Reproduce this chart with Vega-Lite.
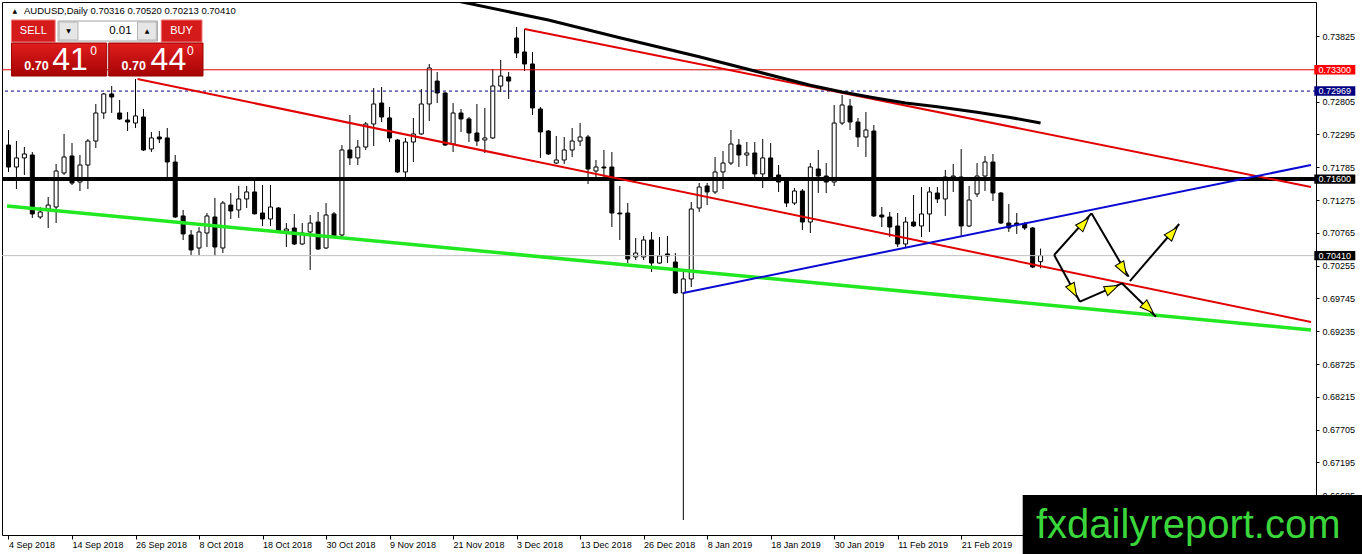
{
  "$schema": "https://vega.github.io/schema/vega-lite/v6.json",
  "width": 1314,
  "height": 533,
  "autosize": {"type": "none"},
  "padding": {"left": 2, "top": 2, "right": 46, "bottom": 19},
  "background": "white",
  "config": {
    "view": {"stroke": "black", "strokeWidth": 1},
    "axis": {"domain": false, "grid": false, "tickColor": "black", "tickWidth": 1, "labelFont": "Liberation Sans", "labelFontSize": 9, "labelColor": "black"}
  },
  "datasets": {
    "candles": [
      {"i":0,"o":0.72130,"h":0.72364,"l":0.71711,"c":0.71788},
      {"i":1,"o":0.71788,"h":0.72192,"l":0.71446,"c":0.71929},
      {"i":2,"o":0.71929,"h":0.72099,"l":0.71664,"c":0.71991},
      {"i":3,"o":0.71975,"h":0.72022,"l":0.70996,"c":0.71058},
      {"i":4,"o":0.71011,"h":0.71166,"l":0.70980,"c":0.71089},
      {"i":5,"o":0.71135,"h":0.71322,"l":0.70840,"c":0.71197},
      {"i":6,"o":0.71166,"h":0.71835,"l":0.70917,"c":0.71726},
      {"i":7,"o":0.71695,"h":0.72302,"l":0.71664,"c":0.71944},
      {"i":8,"o":0.71960,"h":0.72161,"l":0.71508,"c":0.71539},
      {"i":9,"o":0.71555,"h":0.71975,"l":0.71415,"c":0.71819},
      {"i":10,"o":0.71819,"h":0.72224,"l":0.71446,"c":0.72192},
      {"i":11,"o":0.72192,"h":0.72768,"l":0.72084,"c":0.72628},
      {"i":12,"o":0.72628,"h":0.72939,"l":0.72535,"c":0.72924},
      {"i":13,"o":0.72924,"h":0.73048,"l":0.72628,"c":0.72877},
      {"i":14,"o":0.72628,"h":0.72830,"l":0.72519,"c":0.72535},
      {"i":15,"o":0.72519,"h":0.72644,"l":0.72348,"c":0.72488},
      {"i":16,"o":0.72472,"h":0.73157,"l":0.72395,"c":0.72582},
      {"i":17,"o":0.72566,"h":0.72690,"l":0.72037,"c":0.72053},
      {"i":18,"o":0.72068,"h":0.72333,"l":0.72022,"c":0.72240},
      {"i":19,"o":0.72255,"h":0.72348,"l":0.72161,"c":0.72224},
      {"i":20,"o":0.72240,"h":0.72395,"l":0.71633,"c":0.71866},
      {"i":21,"o":0.71866,"h":0.71975,"l":0.70996,"c":0.71011},
      {"i":22,"o":0.71027,"h":0.71120,"l":0.70653,"c":0.70747},
      {"i":23,"o":0.70731,"h":0.70809,"l":0.70420,"c":0.70498},
      {"i":24,"o":0.70529,"h":0.70855,"l":0.70420,"c":0.70778},
      {"i":25,"o":0.70762,"h":0.71073,"l":0.70544,"c":0.71027},
      {"i":26,"o":0.71011,"h":0.71307,"l":0.70405,"c":0.70544},
      {"i":27,"o":0.70529,"h":0.71259,"l":0.70451,"c":0.71228},
      {"i":28,"o":0.71197,"h":0.71384,"l":0.70980,"c":0.71104},
      {"i":29,"o":0.71120,"h":0.71493,"l":0.70996,"c":0.71291},
      {"i":30,"o":0.71291,"h":0.71493,"l":0.71151,"c":0.71400},
      {"i":31,"o":0.71400,"h":0.71570,"l":0.71050,"c":0.71060},
      {"i":32,"o":0.71073,"h":0.71508,"l":0.70871,"c":0.70980},
      {"i":33,"o":0.70980,"h":0.71508,"l":0.70871,"c":0.71166},
      {"i":34,"o":0.71151,"h":0.71166,"l":0.70778,"c":0.70793},
      {"i":35,"o":0.70793,"h":0.70917,"l":0.70544,"c":0.70824},
      {"i":36,"o":0.70840,"h":0.71058,"l":0.70575,"c":0.70591},
      {"i":37,"o":0.70591,"h":0.70917,"l":0.70575,"c":0.70762},
      {"i":38,"o":0.70778,"h":0.71042,"l":0.70187,"c":0.70917},
      {"i":39,"o":0.70933,"h":0.71089,"l":0.70498,"c":0.70513},
      {"i":40,"o":0.70529,"h":0.71228,"l":0.70513,"c":0.71042},
      {"i":41,"o":0.71058,"h":0.71089,"l":0.70700,"c":0.70716},
      {"i":42,"o":0.70731,"h":0.72130,"l":0.70700,"c":0.72053},
      {"i":43,"o":0.72053,"h":0.72597,"l":0.71819,"c":0.71929},
      {"i":44,"o":0.71929,"h":0.72208,"l":0.71819,"c":0.72099},
      {"i":45,"o":0.72099,"h":0.72488,"l":0.72053,"c":0.72457},
      {"i":46,"o":0.72457,"h":0.73017,"l":0.72115,"c":0.72768},
      {"i":47,"o":0.72783,"h":0.73032,"l":0.72488,"c":0.72566},
      {"i":48,"o":0.72551,"h":0.72721,"l":0.72177,"c":0.72240},
      {"i":49,"o":0.72208,"h":0.72224,"l":0.71695,"c":0.71711},
      {"i":50,"o":0.71711,"h":0.72240,"l":0.71618,"c":0.72177},
      {"i":51,"o":0.72177,"h":0.72551,"l":0.71866,"c":0.72302},
      {"i":52,"o":0.72302,"h":0.73001,"l":0.72286,"c":0.72768},
      {"i":53,"o":0.72768,"h":0.73390,"l":0.72504,"c":0.73328},
      {"i":54,"o":0.73125,"h":0.73266,"l":0.72783,"c":0.72939},
      {"i":55,"o":0.72939,"h":0.72955,"l":0.72115,"c":0.72130},
      {"i":56,"o":0.72146,"h":0.72783,"l":0.72022,"c":0.72628},
      {"i":57,"o":0.72628,"h":0.72690,"l":0.72333,"c":0.72535},
      {"i":58,"o":0.72535,"h":0.72566,"l":0.72177,"c":0.72317},
      {"i":59,"o":0.72317,"h":0.72768,"l":0.72115,"c":0.72192},
      {"i":60,"o":0.72208,"h":0.72706,"l":0.72006,"c":0.72240},
      {"i":61,"o":0.72240,"h":0.73313,"l":0.72224,"c":0.73048},
      {"i":62,"o":0.73048,"h":0.73452,"l":0.72955,"c":0.73203},
      {"i":63,"o":0.73188,"h":0.73266,"l":0.72846,"c":0.73125},
      {"i":64,"o":0.73794,"h":0.73966,"l":0.73483,"c":0.73561},
      {"i":65,"o":0.73577,"h":0.73935,"l":0.73281,"c":0.73390},
      {"i":66,"o":0.73390,"h":0.73577,"l":0.72597,"c":0.72706},
      {"i":67,"o":0.72690,"h":0.72721,"l":0.71929,"c":0.72333},
      {"i":68,"o":0.72348,"h":0.72364,"l":0.71975,"c":0.71991},
      {"i":69,"o":0.71850,"h":0.72271,"l":0.71835,"c":0.71897},
      {"i":70,"o":0.71897,"h":0.72255,"l":0.71835,"c":0.72053},
      {"i":71,"o":0.72053,"h":0.72395,"l":0.71944,"c":0.72192},
      {"i":72,"o":0.72192,"h":0.72472,"l":0.72115,"c":0.72255},
      {"i":73,"o":0.72255,"h":0.72286,"l":0.71524,"c":0.71757},
      {"i":74,"o":0.71726,"h":0.71897,"l":0.71633,"c":0.71788},
      {"i":75,"o":0.71788,"h":0.72053,"l":0.71633,"c":0.71773},
      {"i":76,"o":0.71788,"h":0.72022,"l":0.70855,"c":0.71073},
      {"i":77,"o":0.71073,"h":0.71493,"l":0.70653,"c":0.71058},
      {"i":78,"o":0.71073,"h":0.71228,"l":0.70295,"c":0.70358},
      {"i":79,"o":0.70389,"h":0.70684,"l":0.70342,"c":0.70451},
      {"i":80,"o":0.70389,"h":0.70716,"l":0.70342,"c":0.70653},
      {"i":81,"o":0.70653,"h":0.70778,"l":0.70156,"c":0.70295},
      {"i":82,"o":0.70295,"h":0.70700,"l":0.70280,"c":0.70405},
      {"i":83,"o":0.70436,"h":0.70716,"l":0.70295,"c":0.70405},
      {"i":84,"o":0.70311,"h":0.70451,"l":0.69813,"c":0.69829},
      {"i":85,"o":0.69829,"h":0.70156,"l":0.66299,"c":0.70047},
      {"i":86,"o":0.70047,"h":0.71244,"l":0.69922,"c":0.71135},
      {"i":87,"o":0.71151,"h":0.71539,"l":0.71089,"c":0.71477},
      {"i":88,"o":0.71493,"h":0.71539,"l":0.71197,"c":0.71400},
      {"i":89,"o":0.71400,"h":0.71944,"l":0.71369,"c":0.71711},
      {"i":90,"o":0.71711,"h":0.72037,"l":0.71446,"c":0.71850},
      {"i":91,"o":0.71850,"h":0.72364,"l":0.71819,"c":0.72146},
      {"i":92,"o":0.72130,"h":0.72224,"l":0.71788,"c":0.71975},
      {"i":93,"o":0.71975,"h":0.72177,"l":0.71804,"c":0.72006},
      {"i":94,"o":0.72006,"h":0.72177,"l":0.71633,"c":0.71680},
      {"i":95,"o":0.71680,"h":0.72224,"l":0.71461,"c":0.71929},
      {"i":96,"o":0.71929,"h":0.72161,"l":0.71586,"c":0.71617},
      {"i":97,"o":0.71664,"h":0.71819,"l":0.71400,"c":0.71555},
      {"i":98,"o":0.71570,"h":0.71602,"l":0.71166,"c":0.71228},
      {"i":99,"o":0.71228,"h":0.71461,"l":0.71197,"c":0.71415},
      {"i":100,"o":0.71415,"h":0.71446,"l":0.70809,"c":0.70933},
      {"i":101,"o":0.70933,"h":0.71850,"l":0.70762,"c":0.71788},
      {"i":102,"o":0.71757,"h":0.72053,"l":0.71384,"c":0.71648},
      {"i":103,"o":0.71648,"h":0.71850,"l":0.71384,"c":0.71555},
      {"i":104,"o":0.71555,"h":0.72753,"l":0.71493,"c":0.72472},
      {"i":105,"o":0.72472,"h":0.72908,"l":0.72441,"c":0.72753},
      {"i":106,"o":0.72737,"h":0.72846,"l":0.72364,"c":0.72488},
      {"i":107,"o":0.72488,"h":0.72551,"l":0.72099,"c":0.72255},
      {"i":108,"o":0.72255,"h":0.72644,"l":0.71944,"c":0.72364},
      {"i":109,"o":0.72348,"h":0.72441,"l":0.71011,"c":0.71027},
      {"i":110,"o":0.71042,"h":0.71166,"l":0.70855,"c":0.71011},
      {"i":111,"o":0.71011,"h":0.71089,"l":0.70700,"c":0.70855},
      {"i":112,"o":0.70871,"h":0.71073,"l":0.70544,"c":0.70591},
      {"i":113,"o":0.70591,"h":0.71011,"l":0.70544,"c":0.70933},
      {"i":114,"o":0.70933,"h":0.71353,"l":0.70855,"c":0.70871},
      {"i":115,"o":0.70871,"h":0.71477,"l":0.70700,"c":0.71058},
      {"i":116,"o":0.71058,"h":0.71477,"l":0.70778,"c":0.71400},
      {"i":117,"o":0.71384,"h":0.71477,"l":0.71228,"c":0.71291},
      {"i":118,"o":0.71291,"h":0.71742,"l":0.71027,"c":0.71633},
      {"i":119,"o":0.71633,"h":0.71835,"l":0.71400,"c":0.71648},
      {"i":120,"o":0.71633,"h":0.72068,"l":0.70716,"c":0.70871},
      {"i":121,"o":0.70871,"h":0.71493,"l":0.70855,"c":0.71275},
      {"i":122,"o":0.71369,"h":0.71850,"l":0.71322,"c":0.71648},
      {"i":123,"o":0.71648,"h":0.71960,"l":0.71415,"c":0.71866},
      {"i":124,"o":0.71866,"h":0.71991,"l":0.71259,"c":0.71384},
      {"i":125,"o":0.71384,"h":0.71400,"l":0.70902,"c":0.70917},
      {"i":126,"o":0.70917,"h":0.71213,"l":0.70778,"c":0.70840},
      {"i":127,"o":0.70917,"h":0.71073,"l":0.70747,"c":0.70886},
      {"i":128,"o":0.70902,"h":0.70933,"l":0.70809,"c":0.70840},
      {"i":129,"o":0.70840,"h":0.70855,"l":0.70218,"c":0.70233},
      {"i":130,"o":0.70316,"h":0.70520,"l":0.70213,"c":0.70410}
    ],
    "ma": [
      {"i":55,"p":0.74420},{"i":57,"p":0.74357},{"i":68,"p":0.74074},{"i":77,"p":0.73797},
      {"i":87,"p":0.73502},{"i":101,"p":0.73060},{"i":105,"p":0.72954},{"i":109,"p":0.72865},
      {"i":113,"p":0.72785},{"i":117,"p":0.72724},{"i":122,"p":0.72638},{"i":126,"p":0.72563},
      {"i":130,"p":0.72472}
    ],
    "levels": [
      {"k":"res","p":0.733},
      {"k":"dash","p":0.72969},
      {"k":"piv","p":0.716},
      {"k":"bid","p":0.7041}
    ],
    "trend": [
      {"k":"redA","i1":16.25,"p1":0.73157,"i2":164.0625,"p2":0.69378},
      {"k":"redB","i1":65,"p1":0.73935,"i2":164.0625,"p2":0.71477},
      {"k":"green","i1":-0.1875,"p1":0.71182,"i2":164.0625,"p2":0.69254},
      {"k":"blue","i1":85,"p1":0.69829,"i2":164.0625,"p2":0.71819}
    ],
    "arrows": [
      {"i1":131.71,"p1":0.7042,"i2":136.41,"p2":0.71068},
      {"i1":136.41,"p1":0.71068,"i2":141.09,"p2":0.70082},
      {"i1":141.25,"p1":0.70015,"i2":147.46,"p2":0.70902},
      {"i1":131.71,"p1":0.7042,"i2":134.96,"p2":0.69694},
      {"i1":134.96,"p1":0.69694,"i2":140.25,"p2":0.6998},
      {"i1":140.25,"p1":0.6998,"i2":144.54,"p2":0.6946}
    ],
    "heads": [
      {"i":135.46,"p":0.70913,"dir":42},
      {"i":140.375,"p":0.70197,"dir":150},
      {"i":146.625,"p":0.70767,"dir":41},
      {"i":134.125,"p":0.69865,"dir":151},
      {"i":139.0,"p":0.69902,"dir":66},
      {"i":143.59,"p":0.69591,"dir":134}
    ],
    "panel": [
      {"k":"btn","i1":0.375,"i2":5.875,"p1":0.74074,"p2":0.73732},
      {"k":"btn","i1":19.25,"i2":24.375,"p1":0.74074,"p2":0.73732},
      {"k":"spin","i1":6.25,"i2":18.75,"p1":0.74058,"p2":0.73747},
      {"k":"cell","i1":6.375,"i2":8.75,"p1":0.74043,"p2":0.73763},
      {"k":"cell","i1":16.25,"i2":18.625,"p1":0.74043,"p2":0.73763},
      {"k":"big","i1":0.375,"i2":12.375,"p1":0.73716,"p2":0.73203},
      {"k":"big","i1":12.625,"i2":24.5,"p1":0.73716,"p2":0.73203}
    ],
    "ui": [
      {"r":"btn","t":"SELL","i":3.125,"p":0.73903},
      {"r":"btn","t":"BUY","i":21.8,"p":0.73903},
      {"r":"lot","t":"0.01","i":15.5,"p":0.73903},
      {"r":"arr","t":"▼","i":7.56,"p":0.73903},
      {"r":"arr","t":"▲","i":17.44,"p":0.73903},
      {"r":"pre","t":"0.70","i":2.0,"p":0.73297},
      {"r":"pre","t":"0.70","i":14.25,"p":0.73297},
      {"r":"big","t":"41","i":5.5,"p":0.73297},
      {"r":"big","t":"44","i":17.9,"p":0.73297},
      {"r":"sup","t":"0","i":10.3,"p":0.7353},
      {"r":"sup","t":"0","i":22.5,"p":0.7353},
      {"r":"mark","t":"▲","i":0.5,"p":0.74214},
      {"r":"head","t":"AUDUSD,Daily  0.70316 0.70520 0.70213 0.70410","i":1.95,"p":0.74214}
    ],
    "brand": [
      {"t":"fxdailyreport.com","i1":127.75,"i2":170.5,"p1":0.66688,"p2":0.657,"i":148.6,"p":0.66019}
    ]
  },
  "layer": [
    {
      "data": {"name": "candles"},
      "mark": {"type": "rule", "color": "black", "strokeWidth": 1},
      "encoding": {
        "x": {
          "field": "i", "type": "quantitative", "title": null,
          "scale": {"domain": [-0.1875, 164.0625], "nice": false, "zero": false},
          "axis": {
            "title": null, "orient": "bottom",
            "values": [0, 8, 16, 24, 32, 40, 48, 56, 64, 72, 80, 88, 96, 104, 112, 120],
            "labelExpr": "['4 Sep 2018','14 Sep 2018','26 Sep 2018','8 Oct 2018','18 Oct 2018','30 Oct 2018','9 Nov 2018','21 Nov 2018','3 Dec 2018','13 Dec 2018','26 Dec 2018','8 Jan 2019','18 Jan 2019','30 Jan 2019','11 Feb 2019','21 Feb 2019'][round(datum.value / 8)]",
            "tickSize": 4, "labelAlign": "left", "labelBaseline": "top", "labelPadding": 1,
            "labelFlush": false, "labelOverlap": false, "labelBound": false
          }
        },
        "y": {
          "field": "l", "type": "quantitative", "title": null,
          "scale": {"domain": [0.66066, 0.74354], "nice": false, "zero": false},
          "axis": {
            "title": null, "orient": "right", "format": ".5f",
            "values": [0.73825, 0.72805, 0.72295, 0.71785, 0.71275, 0.70765, 0.70255, 0.69745, 0.69235, 0.68725, 0.68215, 0.67705, 0.67195, 0.66685],
            "tickSize": 3, "labelPadding": 3, "labelOverlap": false, "labelFlush": false, "labelBound": false
          }
        },
        "y2": {"field": "h"}
      }
    },
    {
      "data": {"name": "candles"},
      "mark": {"type": "bar", "width": 4, "stroke": "black", "strokeWidth": 1},
      "encoding": {
        "x": {"field": "i", "type": "quantitative", "title": null},
        "y": {"field": "o", "type": "quantitative", "title": null},
        "y2": {"field": "c"},
        "fill": {"condition": {"test": "datum.c >= datum.o", "value": "white"}, "value": "black"}
      }
    },
    {
      "data": {"name": "levels"},
      "transform": [{"filter": "datum.k == 'bid'"}],
      "mark": {"type": "rule", "color": "#c0c0c0", "strokeWidth": 1},
      "encoding": {"y": {"field": "p", "type": "quantitative", "title": null}}
    },
    {
      "data": {"name": "levels"},
      "transform": [{"filter": "datum.k == 'res'"}],
      "mark": {"type": "rule", "color": "#e00000", "strokeWidth": 1},
      "encoding": {"y": {"field": "p", "type": "quantitative", "title": null}}
    },
    {
      "data": {"name": "levels"},
      "transform": [{"filter": "datum.k == 'dash'"}],
      "mark": {"type": "rule", "color": "#000080", "strokeWidth": 1, "strokeDash": [3, 3]},
      "encoding": {"y": {"field": "p", "type": "quantitative", "title": null}}
    },
    {
      "data": {"name": "levels"},
      "transform": [{"filter": "datum.k == 'piv'"}],
      "mark": {"type": "rule", "color": "black", "strokeWidth": 4},
      "encoding": {"y": {"field": "p", "type": "quantitative", "title": null}}
    },
    {
      "data": {"name": "trend"},
      "transform": [{"filter": "datum.k == 'redA' || datum.k == 'redB'"}],
      "mark": {"type": "rule", "color": "#e00000", "strokeWidth": 2},
      "encoding": {
        "x": {"field": "i1", "type": "quantitative", "title": null},
        "x2": {"field": "i2"},
        "y": {"field": "p1", "type": "quantitative", "title": null},
        "y2": {"field": "p2"}
      }
    },
    {
      "data": {"name": "trend"},
      "transform": [{"filter": "datum.k == 'green'"}],
      "mark": {"type": "rule", "color": "#22e822", "strokeWidth": 3.5},
      "encoding": {
        "x": {"field": "i1", "type": "quantitative", "title": null},
        "x2": {"field": "i2"},
        "y": {"field": "p1", "type": "quantitative", "title": null},
        "y2": {"field": "p2"}
      }
    },
    {
      "data": {"name": "trend"},
      "transform": [{"filter": "datum.k == 'blue'"}],
      "mark": {"type": "rule", "color": "#0a0ad2", "strokeWidth": 2},
      "encoding": {
        "x": {"field": "i1", "type": "quantitative", "title": null},
        "x2": {"field": "i2"},
        "y": {"field": "p1", "type": "quantitative", "title": null},
        "y2": {"field": "p2"}
      }
    },
    {
      "data": {"name": "ma"},
      "mark": {"type": "line", "color": "black", "strokeWidth": 3, "clip": true},
      "encoding": {
        "x": {"field": "i", "type": "quantitative", "title": null},
        "y": {"field": "p", "type": "quantitative", "title": null}
      }
    },
    {
      "data": {"name": "arrows"},
      "mark": {"type": "rule", "color": "black", "strokeWidth": 2},
      "encoding": {
        "x": {"field": "i1", "type": "quantitative", "title": null},
        "x2": {"field": "i2"},
        "y": {"field": "p1", "type": "quantitative", "title": null},
        "y2": {"field": "p2"}
      }
    },
    {
      "data": {"name": "heads"},
      "mark": {"type": "point", "shape": "M0,-1L0.7,1L-0.7,1Z", "size": 196, "filled": true, "fill": "#ffff00", "stroke": "black", "strokeWidth": 1, "opacity": 1},
      "encoding": {
        "x": {"field": "i", "type": "quantitative", "title": null},
        "y": {"field": "p", "type": "quantitative", "title": null},
        "angle": {"field": "dir", "type": "quantitative", "scale": null}
      }
    },
    {
      "data": {"name": "levels"},
      "mark": {"type": "point", "shape": "M-1,-0.23L1,-0.23L1,0.23L-1,0.23Z", "size": 1681, "filled": true, "opacity": 1, "strokeWidth": 0, "clip": false},
      "encoding": {
        "x": {"datum": 167.06, "type": "quantitative", "title": null},
        "y": {"field": "p", "type": "quantitative", "title": null},
        "color": {"field": "k", "type": "nominal", "legend": null,
          "scale": {"domain": ["res", "dash", "piv", "bid"], "range": ["#ff0000", "#000080", "#000000", "#000000"]}}
      }
    },
    {
      "data": {"name": "levels"},
      "mark": {"type": "text", "color": "white", "font": "Liberation Sans", "fontSize": 9, "align": "center", "baseline": "middle", "clip": false},
      "encoding": {
        "x": {"datum": 167.06, "type": "quantitative", "title": null},
        "y": {"field": "p", "type": "quantitative", "title": null},
        "text": {"field": "p", "type": "quantitative", "format": ".5f"}
      }
    },
    {
      "data": {"name": "panel"},
      "transform": [{"filter": "datum.k == 'btn'"}],
      "mark": {"type": "rect", "fill": "#d41a1a", "stroke": "#ee7777", "strokeWidth": 1},
      "encoding": {
        "x": {"field": "i1", "type": "quantitative", "title": null},
        "x2": {"field": "i2"},
        "y": {"field": "p1", "type": "quantitative", "title": null},
        "y2": {"field": "p2"}
      }
    },
    {
      "data": {"name": "panel"},
      "transform": [{"filter": "datum.k == 'big'"}],
      "mark": {"type": "rect", "stroke": "#9a0000", "strokeWidth": 1,
        "fill": {"gradient": "linear", "x1": 0, "y1": 0, "x2": 0, "y2": 1,
          "stops": [{"offset": 0, "color": "#e11d1d"}, {"offset": 1, "color": "#a50303"}]}},
      "encoding": {
        "x": {"field": "i1", "type": "quantitative", "title": null},
        "x2": {"field": "i2"},
        "y": {"field": "p1", "type": "quantitative", "title": null},
        "y2": {"field": "p2"}
      }
    },
    {
      "data": {"name": "panel"},
      "transform": [{"filter": "datum.k == 'spin'"}],
      "mark": {"type": "rect", "fill": "white", "stroke": "#a0a0a0", "strokeWidth": 1},
      "encoding": {
        "x": {"field": "i1", "type": "quantitative", "title": null},
        "x2": {"field": "i2"},
        "y": {"field": "p1", "type": "quantitative", "title": null},
        "y2": {"field": "p2"}
      }
    },
    {
      "data": {"name": "panel"},
      "transform": [{"filter": "datum.k == 'cell'"}],
      "mark": {"type": "rect", "fill": "#e6e6e6", "stroke": "#b4b4b4", "strokeWidth": 1},
      "encoding": {
        "x": {"field": "i1", "type": "quantitative", "title": null},
        "x2": {"field": "i2"},
        "y": {"field": "p1", "type": "quantitative", "title": null},
        "y2": {"field": "p2"}
      }
    },
    {
      "data": {"name": "ui"},
      "transform": [{"filter": "datum.r == 'btn'"}],
      "mark": {"type": "text", "color": "white", "font": "Liberation Sans", "fontSize": 11, "align": "center", "baseline": "middle"},
      "encoding": {
        "x": {"field": "i", "type": "quantitative", "title": null},
        "y": {"field": "p", "type": "quantitative", "title": null},
        "text": {"field": "t"}
      }
    },
    {
      "data": {"name": "ui"},
      "transform": [{"filter": "datum.r == 'lot'"}],
      "mark": {"type": "text", "color": "black", "font": "Liberation Sans", "fontSize": 11.5, "align": "right", "baseline": "middle"},
      "encoding": {
        "x": {"field": "i", "type": "quantitative", "title": null},
        "y": {"field": "p", "type": "quantitative", "title": null},
        "text": {"field": "t"}
      }
    },
    {
      "data": {"name": "ui"},
      "transform": [{"filter": "datum.r == 'arr'"}],
      "mark": {"type": "text", "color": "black", "font": "DejaVu Sans", "fontSize": 6, "align": "center", "baseline": "middle"},
      "encoding": {
        "x": {"field": "i", "type": "quantitative", "title": null},
        "y": {"field": "p", "type": "quantitative", "title": null},
        "text": {"field": "t"}
      }
    },
    {
      "data": {"name": "ui"},
      "transform": [{"filter": "datum.r == 'pre'"}],
      "mark": {"type": "text", "color": "white", "font": "Liberation Sans", "fontSize": 12.5, "fontWeight": "bold", "align": "left", "baseline": "alphabetic"},
      "encoding": {
        "x": {"field": "i", "type": "quantitative", "title": null},
        "y": {"field": "p", "type": "quantitative", "title": null},
        "text": {"field": "t"}
      }
    },
    {
      "data": {"name": "ui"},
      "transform": [{"filter": "datum.r == 'big'"}],
      "mark": {"type": "text", "color": "white", "font": "Liberation Sans", "fontSize": 32, "align": "left", "baseline": "alphabetic"},
      "encoding": {
        "x": {"field": "i", "type": "quantitative", "title": null},
        "y": {"field": "p", "type": "quantitative", "title": null},
        "text": {"field": "t"}
      }
    },
    {
      "data": {"name": "ui"},
      "transform": [{"filter": "datum.r == 'sup'"}],
      "mark": {"type": "text", "color": "white", "font": "Liberation Sans", "fontSize": 12, "align": "left", "baseline": "alphabetic"},
      "encoding": {
        "x": {"field": "i", "type": "quantitative", "title": null},
        "y": {"field": "p", "type": "quantitative", "title": null},
        "text": {"field": "t"}
      }
    },
    {
      "data": {"name": "ui"},
      "transform": [{"filter": "datum.r == 'mark'"}],
      "mark": {"type": "text", "color": "black", "font": "DejaVu Sans", "fontSize": 6, "align": "left", "baseline": "middle"},
      "encoding": {
        "x": {"field": "i", "type": "quantitative", "title": null},
        "y": {"field": "p", "type": "quantitative", "title": null},
        "text": {"field": "t"}
      }
    },
    {
      "data": {"name": "ui"},
      "transform": [{"filter": "datum.r == 'head'"}],
      "mark": {"type": "text", "color": "black", "font": "Liberation Sans", "fontSize": 9.5, "align": "left", "baseline": "middle"},
      "encoding": {
        "x": {"field": "i", "type": "quantitative", "title": null},
        "y": {"field": "p", "type": "quantitative", "title": null},
        "text": {"field": "t"}
      }
    },
    {
      "data": {"name": "brand"},
      "mark": {"type": "rect", "fill": "black", "clip": false},
      "encoding": {
        "x": {"field": "i1", "type": "quantitative", "title": null},
        "x2": {"field": "i2"},
        "y": {"field": "p1", "type": "quantitative", "title": null},
        "y2": {"field": "p2"}
      }
    },
    {
      "data": {"name": "brand"},
      "mark": {"type": "text", "color": "#3bd63b", "font": "Liberation Sans", "fontSize": 40, "align": "center", "baseline": "alphabetic", "clip": false},
      "encoding": {
        "x": {"field": "i", "type": "quantitative", "title": null},
        "y": {"field": "p", "type": "quantitative", "title": null},
        "text": {"field": "t"}
      }
    }
  ]
}
